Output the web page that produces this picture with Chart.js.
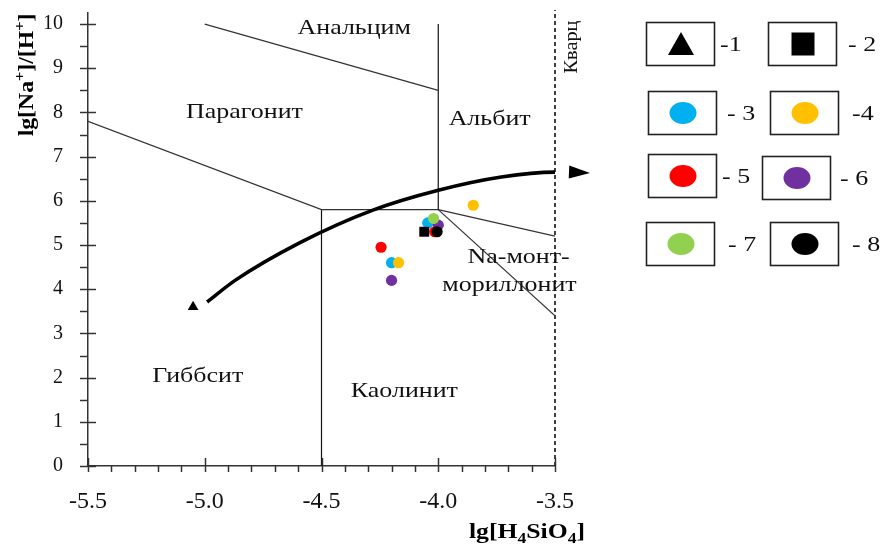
<!DOCTYPE html>
<html>
<head>
<meta charset="utf-8">
<script src="https://cdn.jsdelivr.net/npm/chart.js@4.4.1/dist/chart.umd.min.js"></script>
<style>
  html, body { margin: 0; padding: 0; background: #fff; font-family: "Liberation Serif", "Times New Roman", serif; }
  canvas { display: block; }
  .warm { position: absolute; left: -9999px; top: 0; font-family: "Liberation Serif", "Times New Roman", serif; }
</style>
</head>
<body>
<span class="warm">Анальцим 0123 <b>lg[H]</b></span>
<canvas id="c" width="883" height="546"></canvas>
<script>
// ---- Sample series: lg[H4SiO4] (x) and lg[Na+]/[H+] (y) ----
const seriesLabels = ['-1', '- 2', '- 3', '-4', '- 5', '- 6', '- 7', '- 8'];
const seriesColors = ['#000000', '#000000', '#00B0F0', '#FFC000', '#FF0000', '#7030A0', '#92D050', '#000000'];
const seriesShapes = ['triangle', 'rect', 'circle', 'circle', 'circle', 'circle', 'circle', 'circle'];
const seriesX = [[-5.05], [-4.06], [-4.045, -4.20], [-3.85, -4.17], [-4.245, -4.015], [-4.20, -4.00], [-4.02], [-4.005]];
const seriesY = [[3.6], [5.3], [5.5, 4.6], [5.9, 4.6], [4.95, 5.3], [4.2, 5.45], [5.6], [5.3]];

// ---- Stability field boundaries ----
const analcimeX = [-5.0, -4.0];        const analcimeY = [10.0, 8.5];
const albiteEdgeX = [-4.0, -4.0];      const albiteEdgeY = [10.0, 5.8];
const paragoniteX = [-5.5, -4.5, -4.0]; const paragoniteY = [7.8, 5.8, 5.8];
const kaoliniteX = [-4.5, -4.5];       const kaoliniteY = [5.8, 0.0];
const albiteMontX = [-4.0, -3.5];      const albiteMontY = [5.8, 5.2];
const kaolMontX = [-4.0, -3.5];        const kaolMontY = [5.8, 3.4];
const quartzX = [-3.5, -3.5];          const quartzY = [0.0, 10.32];

// ---- Evolution trend arrow ----
const trendX = [-4.99, -4.87, -4.59, -4.28, -4.00, -3.73, -3.50, -3.44];
const trendY = [3.71, 4.20, 5.06, 5.79, 6.24, 6.54, 6.65, 6.65];
const trendTipX = -3.35;
const trendTipY = 6.63;

// ---- Field names ----
const regionNames = ['Анальцим', 'Парагонит', 'Альбит', 'Na-монт-', 'мориллонит', 'Гиббсит', 'Каолинит'];
const regionX = [-4.36, -4.83, -3.78, -3.656, -3.695, -5.03, -4.145];
const regionY = [9.9, 8.0, 7.85, 4.73, 4.09, 2.03, 1.69];
const quartzLabel = 'Кварц';
const quartzLabelX = -3.425;
const quartzLabelY = 9.48;

// ---- Axis ----
const xMin = -5.5, xMax = -3.5;
const yMin = 0, yMax = 10.25;

// Times-metric serif if present; otherwise DejaVu Serif (already wider, so no stretch)
function hasFont(name) {
  const c = document.createElement('canvas').getContext('2d');
  const probe = 'Анальцим lg[H] 0123456789';
  c.font = '30px monospace';
  const a = c.measureText(probe).width;
  c.font = `30px "${name}", monospace`;
  const b = c.measureText(probe).width;
  return Math.abs(a - b) > 0.5;
}
const TIMES = hasFont('Liberation Serif') ? 'Liberation Serif' : (hasFont('Times New Roman') ? 'Times New Roman' : null);
const SERIF = TIMES ? `"${TIMES}", serif` : '"DejaVu Serif", serif';
const WIDE = TIMES ? 1.18 : 1.0;
const XTICK_SIZE = TIMES ? 24 : 21;
const YTICK_SIZE = TIMES ? 20 : 17;
const NOTE_SIZE = TIMES ? 22 : 20;
const TITLE_SIZE = TIMES ? 22 : 19;

function pts(xs, ys) { return xs.map((x, i) => ({ x: x, y: ys[i] })); }

function boundary(xs, ys, extra) {
  return Object.assign({
    type: 'line',
    data: pts(xs, ys),
    borderColor: '#333333',
    borderWidth: 1.2,
    pointRadius: 0,
    tension: 0,
    fill: false,
    order: 30
  }, extra || {});
}

const datasets = [
  boundary(analcimeX, analcimeY),
  boundary(albiteEdgeX, albiteEdgeY, { borderColor: '#111' }),
  boundary(paragoniteX, paragoniteY),
  boundary(kaoliniteX, kaoliniteY, { borderColor: '#111' }),
  boundary(albiteMontX, albiteMontY),
  boundary(kaolMontX, kaolMontY),
  boundary(quartzX, quartzY, { borderColor: '#000', borderWidth: 1.5, borderDash: [4, 3], clip: false }),
  {
    type: 'line',
    data: pts(trendX, trendY),
    borderColor: '#000',
    borderWidth: 3.6,
    pointRadius: 0,
    cubicInterpolationMode: 'monotone',
    fill: false,
    clip: false,
    order: 25
  }
];

// later series sit on top of earlier ones
const pointOrder = [3, 2, 12, 11, 10, 9, 8, 7];
const pointRadius = { triangle: 6.2, rect: 7, circle: 5.6 };
seriesLabels.forEach((lab, i) => {
  datasets.push({
    type: 'scatter',
    label: lab,
    data: pts(seriesX[i], seriesY[i]),
    pointStyle: seriesShapes[i],
    pointRadius: pointRadius[seriesShapes[i]],
    pointHoverRadius: pointRadius[seriesShapes[i]],
    backgroundColor: seriesColors[i],
    borderColor: seriesColors[i],
    borderWidth: 0,
    order: pointOrder[i]
  });
});

// plain text, stretched horizontally around its anchor
function wideText(ctx, text, x, y, sx) {
  ctx.save();
  ctx.translate(x, y);
  ctx.scale(sx, 1);
  ctx.fillText(text, 0, 0);
  ctx.restore();
}

// text with sub/superscripts, centred on the current origin
function drawRich(ctx, runs, size, weight, sx) {
  const small = Math.round(size * 0.68);
  let total = 0;
  runs.forEach(r => {
    ctx.font = `${weight} ${r.k === 'n' ? size : small}px ${SERIF}`;
    r.w = ctx.measureText(r.t).width;
    total += r.w;
  });
  ctx.save();
  ctx.scale(sx, 1);
  let cx = -total / 2;
  ctx.textAlign = 'left';
  ctx.textBaseline = 'alphabetic';
  runs.forEach(r => {
    ctx.font = `${weight} ${r.k === 'n' ? size : small}px ${SERIF}`;
    const dy = r.k === 'sup' ? -size * 0.42 : (r.k === 'sub' ? size * 0.22 : 0);
    ctx.fillText(r.t, cx, dy);
    cx += r.w;
  });
  ctx.restore();
}

// legend layout (box left/top, label left)
const legendBoxLeft = [646, 768, 648, 770, 648, 762, 646, 770];
const legendBoxTop = [22, 22, 91, 91, 154, 156, 222, 222];
const legendLabelLeft = [720, 848, 727, 852, 722, 840, 728, 852];
const legendBoxW = 68, legendBoxH = 43;

const decor = {
  id: 'decor',
  afterDatasetsDraw(chart) {
    const ctx = chart.ctx;
    const xs = chart.scales.x, ys = chart.scales.y;
    // arrow head at the end of the trend line
    const bx = xs.getPixelForValue(trendX[trendX.length - 1]);
    const by = ys.getPixelForValue(trendY[trendY.length - 1]);
    const tx = xs.getPixelForValue(trendTipX);
    const ty = ys.getPixelForValue(trendTipY);
    const len = Math.hypot(tx - bx, ty - by);
    const ux = (tx - bx) / len, uy = (ty - by) / len;
    const hw = 6.5;
    ctx.save();
    ctx.fillStyle = '#000';
    ctx.beginPath();
    ctx.moveTo(tx, ty);
    ctx.lineTo(bx - uy * hw, by + ux * hw);
    ctx.lineTo(bx + uy * hw, by - ux * hw);
    ctx.closePath();
    ctx.fill();
    ctx.restore();
  },
  afterDraw(chart) {
    const ctx = chart.ctx;
    const xs = chart.scales.x, ys = chart.scales.y;
    const area = chart.chartArea;
    ctx.save();

    // tick marks
    ctx.strokeStyle = '#333';
    ctx.lineWidth = 1.5;
    ys.ticks.forEach(t => {
      const p = Math.round(ys.getPixelForValue(t.value)) + 0.5;
      const major = Math.abs(t.value - Math.round(t.value)) < 1e-6;
      ctx.beginPath();
      ctx.moveTo(area.left - 8, p);
      ctx.lineTo(area.left + (major ? 8 : 0), p);
      ctx.stroke();
    });
    xs.ticks.forEach(t => {
      const p = Math.round(xs.getPixelForValue(t.value)) + 0.5;
      const major = Math.abs(t.value * 2 - Math.round(t.value * 2)) < 1e-6;
      ctx.beginPath();
      ctx.moveTo(p, area.bottom + 6);
      ctx.lineTo(p, area.bottom - (major ? 8 : 0));
      ctx.stroke();
    });

    // field names
    ctx.fillStyle = '#111';
    ctx.font = `${NOTE_SIZE}px ${SERIF}`;
    ctx.textAlign = 'center';
    ctx.textBaseline = 'middle';
    regionNames.forEach((n, i) => {
      wideText(ctx, n, xs.getPixelForValue(regionX[i]), ys.getPixelForValue(regionY[i]), WIDE);
    });
    ctx.save();
    ctx.translate(xs.getPixelForValue(quartzLabelX), ys.getPixelForValue(quartzLabelY));
    ctx.rotate(-Math.PI / 2);
    ctx.font = `${NOTE_SIZE - 3}px ${SERIF}`;
    wideText(ctx, quartzLabel, 0, 0, TIMES ? 1.07 : 1.0);
    ctx.restore();

    // axis titles
    ctx.fillStyle = '#000';
    ctx.save();
    ctx.translate(33, 75);
    ctx.rotate(-Math.PI / 2);
    drawRich(ctx, [
      { t: 'lg[Na', k: 'n' }, { t: '+', k: 'sup' }, { t: ']/[H', k: 'n' }, { t: '+', k: 'sup' }, { t: ']', k: 'n' }
    ], TITLE_SIZE, 'bold', TIMES ? 1.08 : 1.0);
    ctx.restore();
    ctx.save();
    ctx.translate(527, 538);
    drawRich(ctx, [
      { t: 'lg[H', k: 'n' }, { t: '4', k: 'sub' }, { t: 'SiO', k: 'n' }, { t: '4', k: 'sub' }, { t: ']', k: 'n' }
    ], TITLE_SIZE, 'bold', TIMES ? 1.17 : 1.0);
    ctx.restore();

    // legend
    seriesLabels.forEach((lab, i) => {
      const l = legendBoxLeft[i], t = legendBoxTop[i];
      ctx.strokeStyle = '#222';
      ctx.lineWidth = 1.6;
      ctx.strokeRect(l + 0.5, t + 0.5, legendBoxW, legendBoxH);
      const cx = l + legendBoxW / 2 + 1, cy = t + legendBoxH / 2 + 0.5;
      ctx.fillStyle = seriesColors[i];
      ctx.beginPath();
      if (seriesShapes[i] === 'triangle') {
        ctx.moveTo(cx, cy - 12);
        ctx.lineTo(cx + 13, cy + 11);
        ctx.lineTo(cx - 13, cy + 11);
        ctx.closePath();
      } else if (seriesShapes[i] === 'rect') {
        ctx.rect(cx - 11.5, cy - 11.5, 23, 23);
      } else {
        ctx.ellipse(cx, cy, 13.5, 11, 0, 0, Math.PI * 2);
      }
      ctx.fill();
      ctx.fillStyle = '#111';
      ctx.font = `${NOTE_SIZE}px ${SERIF}`;
      ctx.textAlign = 'left';
      ctx.textBaseline = 'middle';
      wideText(ctx, lab, legendLabelLeft[i], cy + 1, WIDE);
    });

    ctx.restore();
  }
};

const chart = new Chart(document.getElementById('c'), {
  type: 'scatter',
  data: { datasets: datasets },
  plugins: [decor],
  options: {
    responsive: false,
    animation: false,
    events: [],
    layout: { padding: { left: 0, top: 13, right: 328, bottom: 0 } },
    plugins: { legend: { display: false }, tooltip: { enabled: false } },
    scales: {
      x: {
        type: 'linear',
        min: xMin,
        max: xMax,
        grid: { display: false, drawTicks: false },
        border: { display: true, color: '#333', width: 1.5 },
        ticks: {
          stepSize: 0.1,
          autoSkip: false,
          maxRotation: 0,
          includeBounds: false,
          padding: 21,
          color: '#111',
          font: { family: SERIF, size: XTICK_SIZE },
          callback: v => {
            const r = Math.round(v * 10) / 10;
            return Math.abs(r * 2 - Math.round(r * 2)) < 1e-6 ? r.toFixed(1) : '';
          }
        },
        afterFit: s => { s.height = 80; s.paddingLeft = 0; s.paddingRight = 0; }
      },
      y: {
        type: 'linear',
        min: yMin,
        max: yMax,
        grid: { display: false, drawTicks: false },
        border: { display: true, color: '#333', width: 1.5 },
        ticks: {
          stepSize: 0.5,
          autoSkip: false,
          includeBounds: false,
          padding: 25,
          color: '#111',
          font: { family: SERIF, size: YTICK_SIZE },
          callback: v => (Math.abs(v - Math.round(v)) < 1e-6 ? String(Math.round(v)) : '')
        },
        afterFit: s => { s.width = 88; s.paddingTop = 0; s.paddingBottom = 0; }
      }
    }
  }
});
</script>
</body>
</html>
